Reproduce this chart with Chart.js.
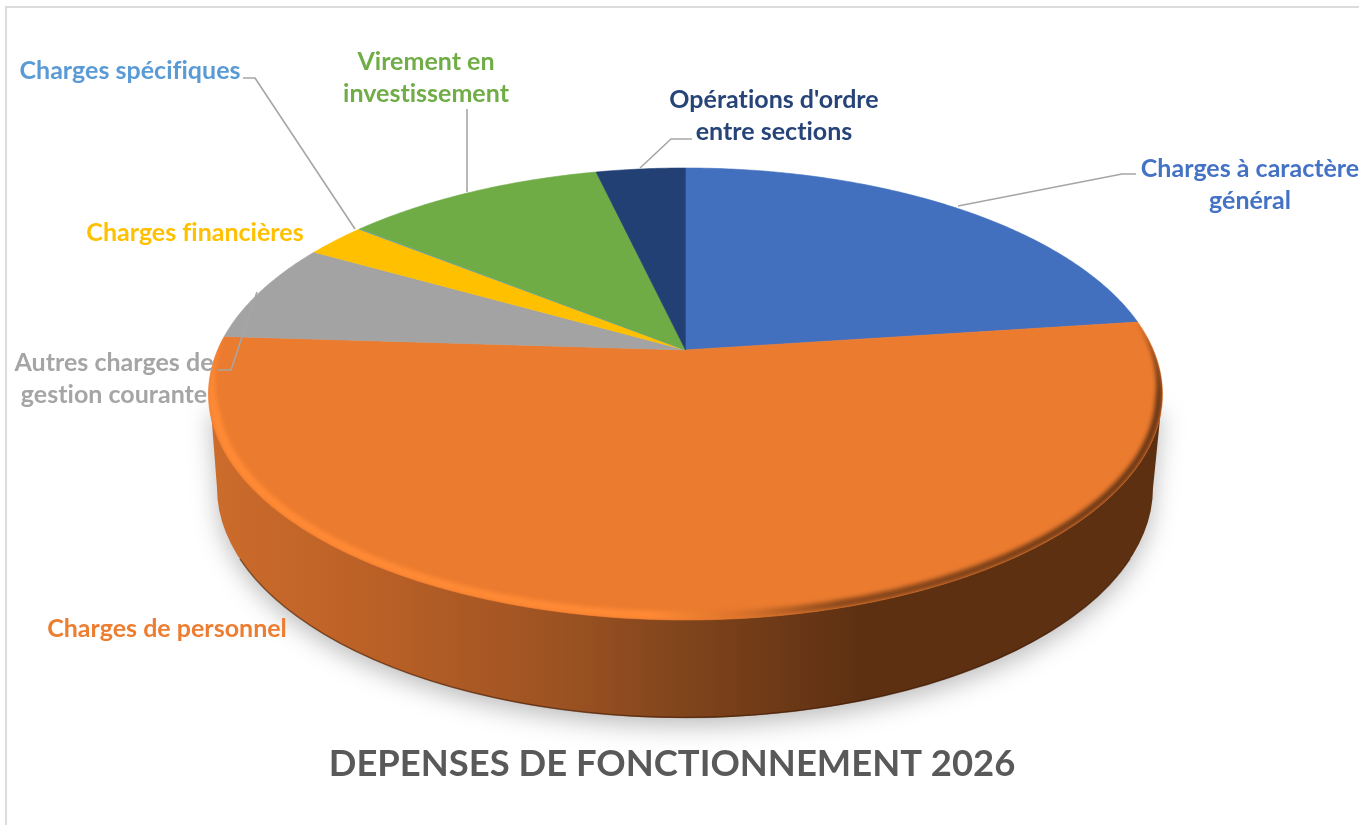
<!DOCTYPE html>
<html lang="fr">
<head>
<meta charset="utf-8">
<title>Dépenses de fonctionnement 2026</title>
<script src="https://cdn.jsdelivr.net/npm/chart.js@4/dist/chart.umd.min.js"></script>
<style>html,body{margin:0;padding:0;background:#fff}canvas{display:block}</style>
</head>
<body>
<canvas id="c" width="1359" height="825"></canvas>
<script>
// ---- data ----
const labelLines = [
  ["Charges à caractère", "général"],
  ["Charges de personnel"],
  ["Autres charges de", "gestion courante"],
  ["Charges financières"],
  ["Charges spécifiques"],
  ["Virement en", "investissement"],
  ["Opérations d'ordre", "entre sections"]
];
const categories = labelLines.map(l => l.join(" "));
const shares = [22.9, 53.1, 7.2, 2.5, 0.05, 10.6, 3.65];
const sliceColors = ["#4270bf", "#eb7b2f", "#a3a3a3", "#ffc000", "#5b9bd5", "#6fac46", "#234075"];
const labelColors = ["#4472c4", "#ed7d31", "#a5a5a5", "#ffc000", "#5b9bd5", "#70ad47", "#264478"];
const chartTitle = "DEPENSES DE FONCTIONNEMENT 2026";

// ---- layout ----
const E = {cx: 685.5, cy: 394, rx: 477, ry: 226, tilt: -0.195};          // top face
const B = {cx: 685, cy: 488, rx: 468, ry: 230};                          // bottom rim
const labelPos = [[1250,177],[167,637],[114,371],[195,241],[130,79],[426,70],[774,108]];
const lineGap = 32;
const leaders = [
  [[958,206],[1122,174],[1136,174]],
  null,
  [[257,292],[231,370],[218,370]],
  null,
  [[243,78],[255,78],[355,229]],
  [[467,109],[467,192]],
  [[640,168],[671,139],[692,139]]
];

// perspective projection of a unit-circle angle on the tilted top face
function project(a){
  const u = Math.cos(a), v = Math.sin(a), t = E.tilt;
  const d = 1 + t*v;
  const X = u*Math.sqrt(1 - t*t)/d, Y = (v + t)/d;
  return [E.cx + E.rx*X, E.cy + E.ry*Y];
}
const Arc = Chart.registry.getElement('arc');
Arc.prototype.draw = function(ctx){
  const o = this.options;
  const {startAngle:s, endAngle:e} = this.getProps(['startAngle','endAngle'], true);
  ctx.save();
  ctx.beginPath();
  ctx.moveTo(E.cx, E.cy + E.ry*E.tilt);
  const n = Math.max(2, Math.ceil((e - s)/0.01));
  for(let i=0;i<=n;i++){ const p = project(s + (e - s)*i/n); ctx.lineTo(p[0], p[1]); }
  ctx.closePath();
  ctx.fillStyle = o.backgroundColor;
  ctx.fill();
  ctx.strokeStyle = o.backgroundColor;
  ctx.lineWidth = 0.6;
  ctx.stroke();
  ctx.restore();
};

const solidPlugin = {
  id: 'solid',
  beforeDatasetsDraw(chart){
    const ctx = chart.ctx;
    // frame
    ctx.save();
    ctx.strokeStyle = '#dcdcdc'; ctx.lineWidth = 2;
    ctx.beginPath(); ctx.moveTo(6,825); ctx.lineTo(6,7); ctx.lineTo(1359,7); ctx.stroke();
    ctx.restore();
    // wall
    const g = ctx.createLinearGradient(210,0,1165,0);
    [[0,'#cc6c2c'],[0.15,'#bd6227'],[0.37,'#9c5222'],[0.5,'#7f441c'],[0.68,'#5e3012'],[1,'#5e3012']]
      .forEach(s => g.addColorStop(s[0], s[1]));
    const wall = () => {
      ctx.beginPath();
      ctx.moveTo(E.cx - E.rx + 2, E.cy + 10);
      ctx.lineTo(B.cx - B.rx, B.cy);
      ctx.ellipse(B.cx, B.cy, B.rx, B.ry, 0, Math.PI, 0, true);
      ctx.lineTo(E.cx + E.rx - 1, E.cy + 10);
      ctx.closePath();
    };
    ctx.save();
    ctx.shadowColor = 'rgba(0,0,0,0.26)';
    ctx.shadowBlur = 24;
    ctx.shadowOffsetX = 0;
    ctx.shadowOffsetY = 8;
    ctx.fillStyle = g;
    wall();
    ctx.fill();
    ctx.restore();
    ctx.save();
    ctx.strokeStyle = 'rgba(60,25,5,0.55)';
    ctx.lineWidth = 1.5;
    ctx.beginPath();
    ctx.ellipse(B.cx, B.cy, B.rx, B.ry - 0.5, 0, Math.PI*0.9, Math.PI*0.1, true);
    ctx.stroke();
    ctx.restore();
  },
  afterDatasetsDraw(chart){
    const ctx = chart.ctx;
    // bevel around the lower edge of the top face
    const a0 = -0.325, a1 = Math.PI + 0.255, n = 240;
    const pts = (inset) => {
      const r = [];
      for(let i=0;i<=n;i++){
        const a = a0 + (a1 - a0)*i/n;
        const ramp = Math.min(1, (a - a0)/0.35, (a1 - a)/0.35);
        const w = inset ? ramp*(7 + 3*Math.max(0,a)/Math.PI) : 0;
        r.push([E.cx + (E.rx - w)*Math.cos(a), E.cy + (E.ry - w)*Math.sin(a)]);
      }
      return r;
    };
    const outer = pts(false), inner = pts(true).reverse();
    const g = ctx.createLinearGradient(210,0,1165,0);
    [[0,'#ff8a35'],[0.46,'#ff8a35'],[0.56,'#d8722b'],[0.66,'#8a481b'],[1,'#653414']]
      .forEach(s => g.addColorStop(s[0], s[1]));
    ctx.save();
    ctx.beginPath();
    ctx.ellipse(E.cx, E.cy, E.rx, E.ry, 0, 0, Math.PI*2);
    ctx.clip();
    ctx.filter = 'blur(2px)';
    ctx.fillStyle = g;
    ctx.beginPath();
    outer.concat(inner).forEach((p,i) => i ? ctx.lineTo(p[0],p[1]) : ctx.moveTo(p[0],p[1]));
    ctx.closePath();
    ctx.fill();
    ctx.restore();
  },
  afterDraw(chart){
    const ctx = chart.ctx;
    ctx.save();
    ctx.strokeStyle = '#a6a6a6';
    ctx.lineWidth = 1.6;
    ctx.lineJoin = 'round';
    leaders.forEach(l => {
      if(!l) return;
      ctx.beginPath();
      l.forEach((p,i) => i ? ctx.lineTo(p[0],p[1]) : ctx.moveTo(p[0],p[1]));
      ctx.stroke();
    });
    ctx.font = 'bold 25px Lato';
    ctx.letterSpacing = '0.01px';
    ctx.textAlign = 'center';
    ctx.textBaseline = 'alphabetic';
    labelLines.forEach((lines,i) => {
      ctx.fillStyle = labelColors[i];
      lines.forEach((t,j) => ctx.fillText(t, labelPos[i][0], labelPos[i][1] + j*lineGap));
    });
    ctx.restore();
  }
};

new Chart(document.getElementById('c'), {
  type: 'pie',
  data: {
    labels: categories,
    datasets: [{data: shares, backgroundColor: sliceColors, borderWidth: 0}]
  },
  options: {
    responsive: false,
    animation: false,
    layout: {padding: {right: 15, bottom: 39}},
    plugins: {
      legend: {display: false},
      tooltip: {enabled: false},
      title: {
        display: true,
        text: chartTitle,
        position: 'bottom',
        color: '#595959',
        font: {family: 'Lato', size: 36.4, weight: 'bold'},
        padding: 0
      }
    }
  },
  plugins: [solidPlugin]
});
</script>
</body>
</html>
